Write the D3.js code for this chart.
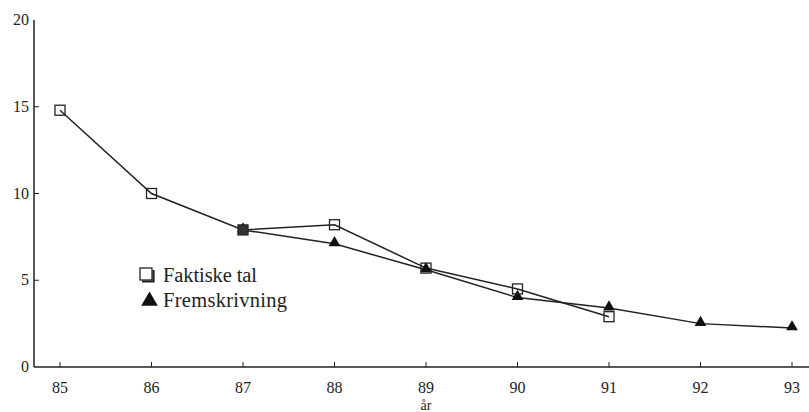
<!DOCTYPE html>
<html>
<head>
<meta charset="utf-8">
<script src="https://cdn.jsdelivr.net/npm/d3@7"></script>
<style>
  body { margin: 0; background: #fff; }
  text { font-family: "Liberation Serif", "Times New Roman", serif; fill: #222; }
</style>
</head>
<body>
<svg id="plot" width="809" height="412"></svg>
<script>
// years on the x axis and the two series
var years = [85, 86, 87, 88, 89, 90, 91, 92, 93];
var faktiskeYears = [85, 86, 87, 88, 89, 90, 91];
var faktiske = [14.8, 10.0, 7.9, 8.2, 5.7, 4.5, 2.9];
var fremYears = [87, 88, 89, 90, 91, 92, 93];
var frem = [7.9, 7.1, 5.6, 4.0, 3.4, 2.5, 2.25];
var yTicks = [0, 5, 10, 15, 20];

var svg = d3.select("#plot");

var x = d3.scaleLinear().domain([85, 93]).range([60, 792]);
var y = d3.scaleLinear().domain([0, 20]).range([367, 20]);

// axes
var axisX0 = 34;
svg.append("line")
    .attr("x1", axisX0).attr("x2", axisX0)
    .attr("y1", y(20)).attr("y2", y(0))
    .attr("stroke", "#222").attr("stroke-width", 1.5);
svg.append("line")
    .attr("x1", axisX0).attr("x2", 809)
    .attr("y1", y(0)).attr("y2", y(0))
    .attr("stroke", "#222").attr("stroke-width", 1.5);

// y ticks: little marks inside the axis
svg.append("g").selectAll("line")
    .data(yTicks.filter(function(d){ return d > 0 && d < 20; }))
    .enter().append("line")
    .attr("x1", axisX0).attr("x2", axisX0 + 5)
    .attr("y1", function(d){ return y(d); })
    .attr("y2", function(d){ return y(d); })
    .attr("stroke", "#222");

svg.append("g").selectAll("text")
    .data(yTicks)
    .enter().append("text")
    .attr("x", axisX0 - 5)
    .attr("y", function(d){ return y(d) + 5; })
    .attr("text-anchor", "end")
    .style("font-size", "16px")
    .text(function(d){ return d; });

// x ticks
svg.append("g").selectAll("line")
    .data(years)
    .enter().append("line")
    .attr("x1", function(d){ return x(d); })
    .attr("x2", function(d){ return x(d); })
    .attr("y1", y(0)).attr("y2", y(0) - 5)
    .attr("stroke", "#222");

svg.append("g").selectAll("text")
    .data(years)
    .enter().append("text")
    .attr("x", function(d){ return x(d); })
    .attr("y", 393)
    .attr("text-anchor", "middle")
    .style("font-size", "16px")
    .text(function(d){ return d; });

svg.append("text")
    .attr("x", (x(85) + x(93)) / 2)
    .attr("y", 410)
    .attr("text-anchor", "middle")
    .style("font-size", "14px")
    .text("år");

var line = d3.line()
    .x(function(d){ return x(d[0]); })
    .y(function(d){ return y(d[1]); });

var fakt = faktiskeYears.map(function(d, i){ return [d, faktiske[i]]; });
var fr = fremYears.map(function(d, i){ return [d, frem[i]]; });

svg.append("path").datum(fr)
    .attr("d", line).attr("fill", "none")
    .attr("stroke", "#222").attr("stroke-width", 1.5);
svg.append("path").datum(fakt)
    .attr("d", line).attr("fill", "none")
    .attr("stroke", "#222").attr("stroke-width", 1.5);

// markers
var tri = d3.symbol().type(d3.symbolTriangle).size(60);
svg.append("g").selectAll("path")
    .data(fr)
    .enter().append("path")
    .attr("d", tri)
    .attr("transform", function(d){ return "translate(" + x(d[0]) + "," + (y(d[1]) - 1) + ")"; })
    .attr("fill", "#111");

svg.append("g").selectAll("rect")
    .data(fakt)
    .enter().append("rect")
    .attr("x", function(d){ return x(d[0]) - 5; })
    .attr("y", function(d){ return y(d[1]) - 5; })
    .attr("width", 10).attr("height", 10)
    .attr("fill", function(d){ return d[0] == 87 ? "#333" : "none"; })
    .attr("stroke", "#222").attr("stroke-width", 1.3);

// legend
var legend = svg.append("g");
legend.append("rect")
    .attr("x", 140).attr("y", 268).attr("width", 12).attr("height", 12)
    .attr("fill", "#fff").attr("stroke", "#222").attr("stroke-width", 1.3);
legend.append("path")
    .attr("d", "M142,281.5 H153.5 V270")
    .attr("fill", "none").attr("stroke", "#222").attr("stroke-width", 2.2);
legend.append("text")
    .attr("x", 163).attr("y", 282)
    .attr("textLength", 94).attr("lengthAdjust", "spacing")
    .style("font-size", "20.5px")
    .text("Faktiske tal");
legend.append("path")
    .attr("d", d3.symbol().type(d3.symbolTriangle).size(120))
    .attr("transform", "translate(149.5,301)")
    .attr("fill", "#111");
legend.append("text")
    .attr("x", 163).attr("y", 307)
    .attr("textLength", 124).attr("lengthAdjust", "spacing")
    .style("font-size", "20.5px")
    .text("Fremskrivning");
</script>
</body>
</html>
